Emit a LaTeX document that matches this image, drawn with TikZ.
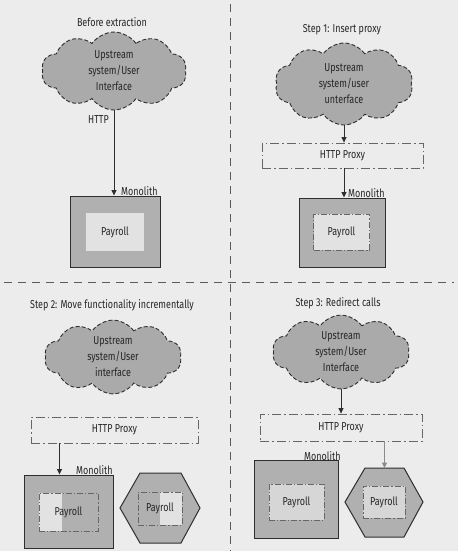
\documentclass[tikz,border=0pt]{standalone}
\usepackage{fontspec}
\setmainfont{Fira Sans}[FakeStretch=0.78]
\usetikzlibrary{shapes.symbols,arrows.meta}
\definecolor{bgc}{HTML}{ECECEC}
\definecolor{cloudc}{HTML}{AAAAAA}
\definecolor{monoc}{HTML}{B0B0B0}
\definecolor{lightc}{HTML}{E2E2E2}
\definecolor{midc}{HTML}{D6D6D6}
\definecolor{linec}{HTML}{2E2E2E}
\definecolor{textc}{HTML}{262626}
\definecolor{ddc}{HTML}{666666}
\definecolor{grayarrow}{HTML}{8A8A8A}
\begin{document}
\begin{tikzpicture}[x=1pt,y=-1pt,
  txt/.style={font=\fontsize{11.5}{16}\selectfont, text=textc, inner sep=1pt},
  cloudnode/.style={cloud, cloud puffs=10, cloud puff arc=110, aspect=1.8,
    draw=linec, dash pattern=on 4pt off 2.2pt, line width=0.9pt, fill=cloudc,
    align=center, inner sep=0pt, txt},
  mono/.style={draw=linec, line width=1pt, fill=monoc, inner sep=0pt},
  innerplain/.style={fill=lightc, inner sep=0pt, txt},
  innerdd/.style={draw=ddc, line width=0.8pt, dash pattern=on 6pt off 2pt on 1.2pt off 2pt, inner sep=0pt, txt},
  proxy/.style={draw=ddc, line width=0.8pt, dash pattern=on 9pt off 3pt on 1.5pt off 3pt, inner sep=0pt, txt},
  conn/.style={draw=linec, line width=1pt, -{Triangle[length=5.5pt,width=5pt]}},
  divider/.style={draw=black!65, line width=0.8pt, dash pattern=on 8pt off 6pt},
  hexa/.style={draw=linec, line width=1pt, fill=monoc}
]
\fill[bgc] (0,0) rectangle (458,551);
\useasboundingbox (0,0) rectangle (458,551);

% dividers
\draw[divider] (230,4) -- (230,551);
\draw[divider] (4,282) -- (454,282);

% ---------- Panel 1 ----------
\node[txt] (t1) at (112,22) {Before extraction};
\node[cloudnode, minimum width=145pt, minimum height=78pt] (c1) at (114,71) {Upstream\\system/User\\Interface};
\node[mono, minimum width=90pt, minimum height=71pt] (m1) at (115,231.5) {};
\node[innerplain, minimum width=58pt, minimum height=38pt] (r1) at (115,232) {Payroll};
\draw[conn] (c1.south) -- (c1.south |- m1.north);
\node[txt, anchor=east] (h1) at (110,120) {HTTP};
\node[txt, anchor=south west] (l1) at (120,197) {Monolith};

% ---------- Panel 2 ----------
\node[txt] (t2) at (342,30) {Step 1: Insert proxy};
\node[cloudnode, minimum width=138pt, minimum height=82pt] (c2) at (344,84) {Upstream\\system/user\\unterface};
\node[proxy, minimum width=161pt, minimum height=25pt] (p2) at (342.5,155.5) {HTTP Proxy};
\node[mono, minimum width=86pt, minimum height=69pt] (m2) at (342,232.5) {};
\node[innerdd, fill=lightc, minimum width=56pt, minimum height=36pt] (r2) at (341.5,232) {Payroll};
\draw[conn] (c2.south) -- (c2.south |- p2.north);
\draw[conn] (c2.south |- p2.south) -- (c2.south |- m2.north);
\node[txt, anchor=south west] (l2) at (347,199) {Monolith};

% ---------- Panel 3 ----------
\node[txt] (t3) at (112,305) {Step 2: Move functionality incrementally};
\node[cloudnode, minimum width=137pt, minimum height=70pt] (c3) at (113,357) {Upstream\\system/User\\interface};
\node[proxy, minimum width=167pt, minimum height=26pt] (p3) at (114.5,430) {HTTP Proxy};
\node[mono, minimum width=89pt, minimum height=73pt] (m3) at (68.5,511.5) {};
\node[innerdd, minimum width=59pt, minimum height=38pt,
  path picture={\fill[lightc] (path picture bounding box.north west) rectangle ([xshift=23pt]path picture bounding box.south west);}] (r3) at (68.5,512) {Payroll};
\draw[hexa] (120,508) -- (140,473) -- (181,473) -- (200,508) -- (181,543) -- (140,543) -- cycle;
\node[innerdd, minimum width=44pt, minimum height=33pt,
  path picture={\fill[lightc] ([xshift=-22pt]path picture bounding box.north east) rectangle (path picture bounding box.south east);}] (r3b) at (160,508.5) {Payroll};
\draw[conn] ([xshift=36pt]m3.north west |- p3.south) -- ([xshift=36pt]m3.north west);
\node[txt, anchor=south west] (l3) at (75,476) {Monolith};

% ---------- Panel 4 ----------
\node[txt] (t4) at (338,303) {Step 3: Redirect calls};
\node[cloudnode, minimum width=137pt, minimum height=73pt] (c4) at (341,352) {Upstream\\system/User\\Interface};
\node[proxy, minimum width=162pt, minimum height=27pt] (p4) at (341,427.5) {HTTP Proxy};
\node[mono, minimum width=84pt, minimum height=78pt] (m4) at (296,499) {};
\node[innerdd, fill=midc, minimum width=55pt, minimum height=36pt] (r4) at (296.5,502) {Payroll};
\draw[hexa] (345,502) -- (365,468) -- (404,468) -- (423,502) -- (404,537) -- (365,537) -- cycle;
\coordinate (h4top) at (384.5,468);
\node[innerdd, fill=midc, minimum width=42pt, minimum height=32pt] (r4b) at (384,502) {Payroll};
\draw[conn] (c4.south) -- (c4.south |- p4.north);
\draw[conn, draw=grayarrow] (h4top |- p4.south) -- (h4top);
\node[txt, anchor=south west] (l4) at (303,462) {Monolith};
\end{tikzpicture}
\end{document}
